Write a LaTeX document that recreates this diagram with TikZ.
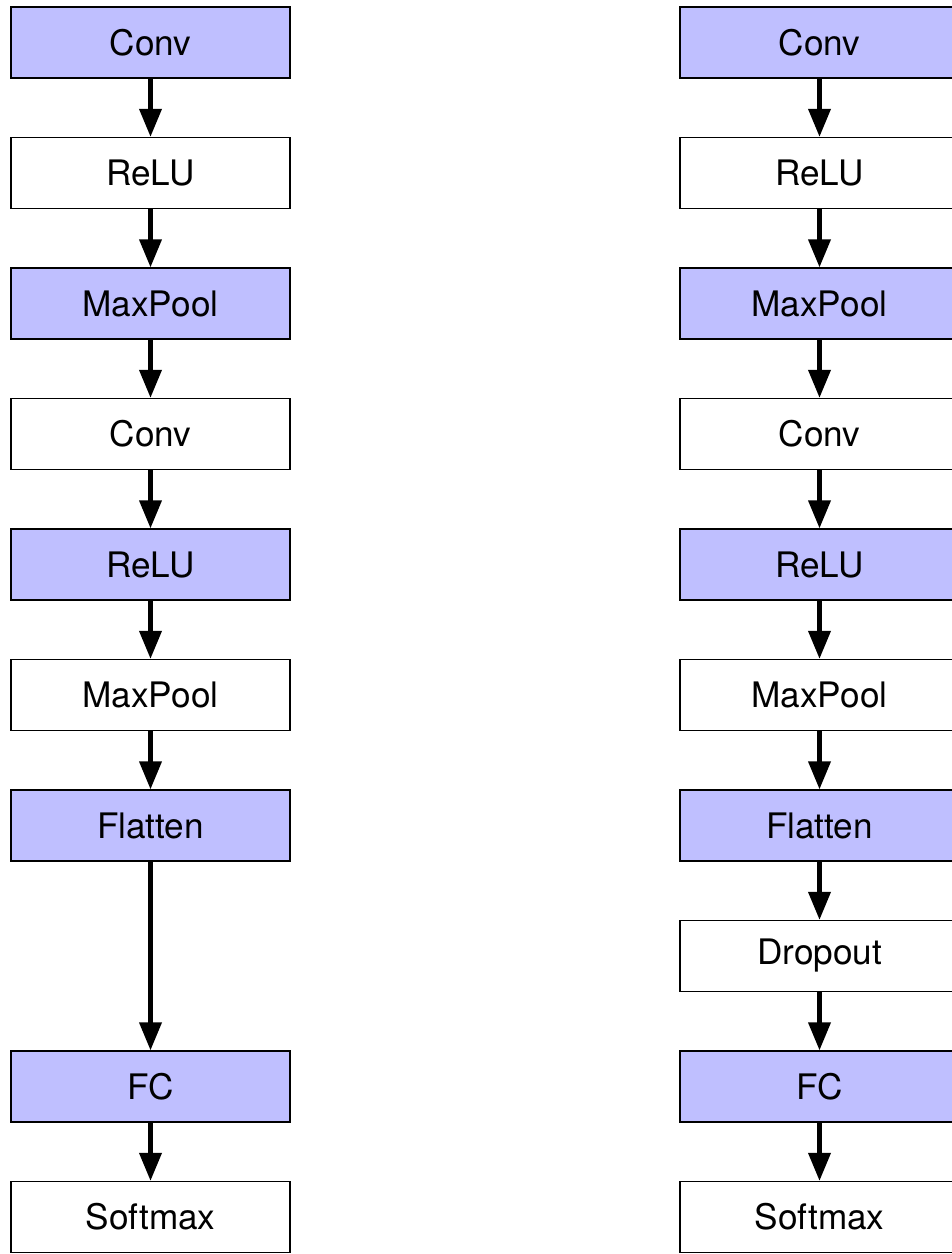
\documentclass[tikz,border=0pt]{standalone}
\usepackage{fontspec}
\setmainfont{TeX Gyre Heros}
\usetikzlibrary{arrows.meta}
\definecolor{layerblue}{RGB}{191,191,255}
\tikzset{
  layer/.style={draw, line width=0.85pt, minimum width=5.58cm, minimum height=1.42cm, inner sep=0pt, font=\fontsize{20}{24}\selectfont},
  layerhi/.style={layer, fill=layerblue},
  flow/.style={-{Triangle[length=15.9pt,width=12.5pt]}, line width=2.3pt}
}
\begin{document}
\begin{tikzpicture}[x=0.02cm,y=-0.02cm]
    \useasboundingbox (0,0) rectangle (951,1254);
    % left network
    \node[layerhi] (lconv1) at (150.5,42.5) {Conv};
    \node[layer] (lrelu1) at (150.5,173) {ReLU};
    \node[layerhi] (lpool1) at (150.5,303.5) {MaxPool};
    \node[layer] (lconv2) at (150.5,434) {Conv};
    \node[layerhi] (lrelu2) at (150.5,564.5) {ReLU};
    \node[layer] (lpool2) at (150.5,695) {MaxPool};
    \node[layerhi] (lflat) at (150.5,825.5) {Flatten};
    \node[layerhi] (lfc) at (150.5,1086.5) {FC};
    \node[layer] (lsoft) at (150.5,1217) {Softmax};
    \draw[flow] (lconv1) -- (lrelu1);
    \draw[flow] (lrelu1) -- (lpool1);
    \draw[flow] (lpool1) -- (lconv2);
    \draw[flow] (lconv2) -- (lrelu2);
    \draw[flow] (lrelu2) -- (lpool2);
    \draw[flow] (lpool2) -- (lflat);
    \draw[flow] (lflat) -- (lfc);
    \draw[flow] (lfc) -- (lsoft);
    % right network, with dropout
    \node[layerhi] (rconv1) at (819.5,42.5) {Conv};
    \node[layer] (rrelu1) at (819.5,173) {ReLU};
    \node[layerhi] (rpool1) at (819.5,303.5) {MaxPool};
    \node[layer] (rconv2) at (819.5,434) {Conv};
    \node[layerhi] (rrelu2) at (819.5,564.5) {ReLU};
    \node[layer] (rpool2) at (819.5,695) {MaxPool};
    \node[layerhi] (rflat) at (819.5,825.5) {Flatten};
    \node[layer] (rdrop) at (819.5,956) {Dropout};
    \node[layerhi] (rfc) at (819.5,1086.5) {FC};
    \node[layer] (rsoft) at (819.5,1217) {Softmax};
    \draw[flow] (rconv1) -- (rrelu1);
    \draw[flow] (rrelu1) -- (rpool1);
    \draw[flow] (rpool1) -- (rconv2);
    \draw[flow] (rconv2) -- (rrelu2);
    \draw[flow] (rrelu2) -- (rpool2);
    \draw[flow] (rpool2) -- (rflat);
    \draw[flow] (rflat) -- (rdrop);
    \draw[flow] (rdrop) -- (rfc);
    \draw[flow] (rfc) -- (rsoft);
\end{tikzpicture}
\end{document}
